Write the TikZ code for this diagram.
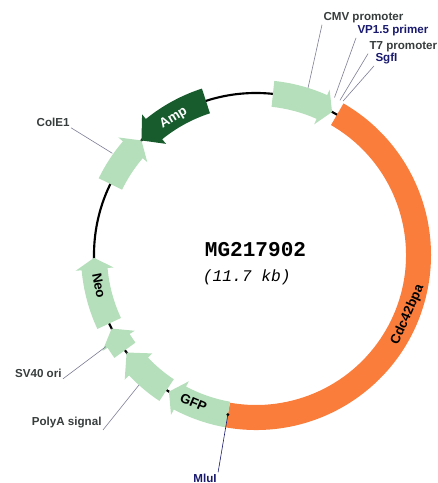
\documentclass[tikz,border=0pt]{standalone}
\usepackage{fontspec}
\setmainfont{Liberation Sans}
\newfontfamily\courierfont{Liberation Mono}
\usetikzlibrary{positioning}
\definecolor{featgreen}{RGB}{180,223,186}
\definecolor{ampgreen}{RGB}{24,92,46}
\definecolor{cdcorange}{RGB}{250,125,60}
\definecolor{leadergray}{RGB}{125,125,150}
\definecolor{labelgray}{RGB}{55,60,60}
\definecolor{sitenavy}{RGB}{25,25,110}
\tikzset{every picture/.style={line width=0.75pt}}
\tikzset{
featlabel/.style={font=\bfseries\fontsize{10}{12}\selectfont, inner sep=0pt},
outlabel/.style={font=\bfseries\fontsize{8.7}{10}\selectfont, text=labelgray, inner sep=0.75pt},
sitelabel/.style={outlabel, text=sitenavy},
leader/.style={draw=leadergray, line width=0.45pt}}
% feature arrow: tail angle, head base angle, tip angle, colour
\newcommand{\featarrow}[4]{%
\fill[#4] (#1:149) arc[start angle=#1, end angle=#2, radius=149] -- (#2:143) -- (#3:162) -- (#2:181) -- (#2:175) arc[start angle=#2, end angle=#1, radius=175] -- cycle;}

\begin{document}
\begin{tikzpicture}[x=0.75pt,y=0.75pt]
\useasboundingbox (0,0) rectangle (438,483);

\begin{scope}[shift={(256,228)}]
%Shape: Circle backbone
\draw[line width=1.6pt] (0,0) circle[radius=162];
%Shape: Arc Cdc42bpa
\fill[cdcorange] (60:150) arc[start angle=60, end angle=-100, radius=150] -- (-100:175) arc[start angle=-100, end angle=60, radius=175] -- cycle;
%Shape: Arrows
\featarrow{84}{66}{62}{featgreen}
\featarrow{260}{242}{237.5}{featgreen}
\featarrow{236.5}{223.5}{217}{featgreen}
\featarrow{216}{212}{207}{featgreen}
\featarrow{205}{185}{181}{featgreen}
\featarrow{154}{139.5}{135}{featgreen}
\featarrow{108}{129}{135}{ampgreen}
\fill (260:162) circle[radius=1.6];

% Text Node
\node[featlabel, text=white, rotate=31] (amp) at (121:160) {Amp};
\node[featlabel, rotate=-79] (neo) at (191:160) {Neo};
\node[featlabel, rotate=-23] (gfp) at (247:160) {GFP};
\node[featlabel, rotate=66] (cdc) at (-21.5:163) {Cdc42bpa};
\node[font=\courierfont\bfseries\fontsize{15.8}{18}\selectfont] (name) at (-0.5,5) {MG217902};
\node[font=\courierfont\itshape\fontsize{12.2}{14}\selectfont, below=2pt of name.south, xshift=-6.5] (size) {(11.7 kb)};

\coordinate (cmvpt) at (72.7:175);
\coordinate (vppt) at (63.5:176);
\coordinate (t7pt) at (61.5:176);
\coordinate (sgfpt) at (60.5:177);
\coordinate (colpt) at (144.7:176);
\coordinate (svpt) at (211.4:176);
\coordinate (polypt) at (228:175);
\coordinate (mlupt) at (260:162);
\end{scope}

% Text Node
\node[outlabel, anchor=west] (cmv) at (322,465) {CMV promoter};
\node[sitelabel, anchor=west] (vp) at (356,452) {VP1.5 primer};
\node[outlabel, anchor=west] (t7) at (368,436) {T7 promoter};
\node[sitelabel, anchor=west] (sgf) at (374,424) {SgfI};
\node[outlabel, anchor=east] (col) at (71,361) {ColE1};
\node[outlabel, anchor=east] (sv) at (63,110) {SV40 ori};
\node[outlabel, anchor=east] (poly) at (103,60) {PolyA signal};
\node[sitelabel] (mlu) at (205,5) {MluI};

\draw[leader] (cmv.south west) -- (cmvpt);
\draw[leader] (vp.south west) -- (vppt);
\draw[leader] (t7.south west) -- (t7pt);
\draw[leader] (sgf.south west) -- (sgfpt);
\draw[leader] (col.south east) -- (colpt);
\draw[leader] (sv.south east) -- (svpt);
\draw[leader] (poly.south east) -- (polypt);
\draw[leader, draw=sitenavy] (mlu.north east) -- (mlupt);

\end{tikzpicture}
\end{document}
